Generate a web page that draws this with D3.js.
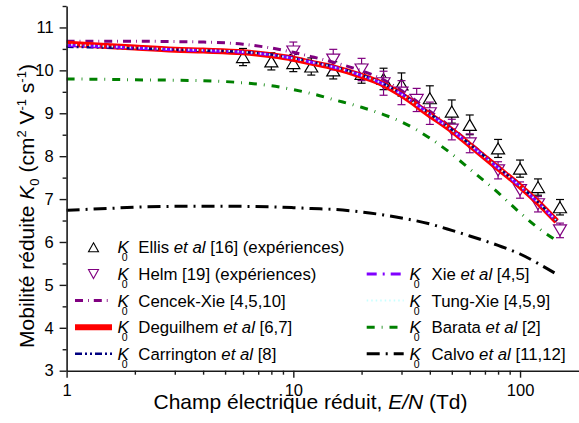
<!DOCTYPE html>
<html>
<head>
<meta charset="utf-8">
<script src="https://cdn.jsdelivr.net/npm/d3@7"></script>
<style>
  html, body { margin: 0; padding: 0; background: #fff; }
  svg { display: block; font-family: "Liberation Sans", Arial, sans-serif; }
</style>
</head>
<body>
<svg id="chart" width="579" height="423"></svg>
<script>
// Reduced field E/N (Td) for the theoretical curves
const enGrid = [1, 1.5, 2, 3, 4, 6, 8, 10, 12, 15, 20, 25, 30, 40, 50, 60, 80, 100, 120, 145];

// Theoretical reduced mobilities K0 (cm2 V-1 s-1)
const cencekXie  = [10.68, 10.68, 10.68, 10.67, 10.66, 10.61, 10.52, 10.42, 10.32, 10.19, 9.99, 9.78, 9.53, 9.05, 8.66, 8.31, 7.75, 7.31, 6.92, 6.48];
const deguilhem  = [10.62, 10.57, 10.53, 10.48, 10.46, 10.42, 10.35, 10.27, 10.18, 10.07, 9.87, 9.67, 9.43, 8.96, 8.60, 8.26, 7.72, 7.30, 6.92, 6.48];
const carrington = [10.55, 10.53, 10.51, 10.48, 10.46, 10.43, 10.37, 10.29, 10.20, 10.09, 9.89, 9.69, 9.46, 8.99, 8.62, 8.28, 7.74, 7.31, 6.93, 6.49];
const xie        = [10.58, 10.55, 10.52, 10.48, 10.46, 10.42, 10.36, 10.28, 10.19, 10.08, 9.88, 9.68, 9.45, 8.98, 8.61, 8.27, 7.73, 7.30, 6.92, 6.48];
const tungXie    = [10.60, 10.56, 10.53, 10.49, 10.47, 10.43, 10.36, 10.28, 10.19, 10.08, 9.88, 9.68, 9.44, 8.97, 8.61, 8.27, 7.73, 7.31, 6.93, 6.49];
const barata     = [9.80, 9.79, 9.78, 9.77, 9.76, 9.71, 9.64, 9.55, 9.46, 9.32, 9.14, 8.97, 8.80, 8.42, 8.05, 7.70, 7.15, 6.68, 6.33, 6.03];
const calvo      = [6.74, 6.78, 6.81, 6.83, 6.83, 6.83, 6.82, 6.80, 6.78, 6.76, 6.70, 6.63, 6.56, 6.42, 6.27, 6.14, 5.92, 5.72, 5.50, 5.25];

// Experimental points with uncertainties
const ellisEN  = [6, 8, 10, 12, 15, 20, 25, 30, 40, 50, 60, 80, 100, 120, 150];
const ellisK   = [10.31, 10.21, 10.17, 10.09, 10.00, 9.92, 9.80, 9.67, 9.35, 9.04, 8.73, 8.18, 7.71, 7.28, 6.81];
const ellisErr = [0.20, 0.20, 0.20, 0.20, 0.20, 0.22, 0.25, 0.27, 0.29, 0.27, 0.23, 0.21, 0.20, 0.19, 0.18];

const helmEN  = [10, 15, 20, 25, 30, 35, 40, 50, 60, 80, 100, 120, 150];
const helmK   = [10.44, 10.25, 10.02, 9.70, 9.48, 9.31, 9.00, 8.62, 8.30, 7.67, 7.21, 6.88, 6.27];
const helmErr = [0.22, 0.24, 0.26, 0.28, 0.28, 0.27, 0.26, 0.24, 0.22, 0.20, 0.19, 0.18, 0.17];

// Axis ticks
const xMajor = [1, 10, 100];
const xMinor = [2, 3, 4, 5, 6, 7, 8, 9, 20, 30, 40, 50, 60, 70, 80, 90, 200];
const yMajor = [3, 4, 5, 6, 7, 8, 9, 10, 11];
const yMinor = [3.5, 4.5, 5.5, 6.5, 7.5, 8.5, 9.5, 10.5, 11.5];

const svg = d3.select("#chart");
const x = d3.scaleLog().domain([1, 200]).range([66.6, 588.3]);
const y = d3.scaleLinear().domain([3, 11.5]).range([370.7, 6]);

const axisColor = "#1a1a1a";
const FONT = "Liberation Sans, Arial, sans-serif";

// Curve definitions: colour, width, dash pattern
const curves = [
  { key: "cencek",     vals: cencekXie,  color: "#800080", width: 3,   dash: "8,5,0.8,5" },
  { key: "deguilhem",  vals: deguilhem,  color: "#ff0000", width: 6,   dash: null },
  { key: "carrington", vals: carrington, color: "#000080", width: 2.5, dash: "7,3,2,3,2,3" },
  { key: "xie",        vals: xie,        color: "#8000ff", width: 3,   dash: "10,6,2,6" },
  { key: "tungxie",    vals: tungXie,    color: "#c8ffff", width: 2,   dash: "1.5,3" },
  { key: "barata",     vals: barata,     color: "#008000", width: 3,   dash: "8,7,0.8,7" },
  { key: "calvo",      vals: calvo,      color: "#000000", width: 3,   dash: "13,6,2,6" }
];
const byKey = Object.fromEntries(curves.map(c => [c.key, c]));

// ---- experimental markers (drawn below the curves) ----
function triPath(up, w, h) {
  return up
    ? `M0,${-h} L${w},${h} L${-w},${h} Z`
    : `M0,${h} L${w},${-h} L${-w},${-h} Z`;
}
function drawSeries(en, k, err, color, up) {
  const g = svg.append("g");
  en.forEach((e, i) => {
    const cx = x(e), v = k[i], d = err[i];
    const y1 = y(v + d), y2 = y(v - d);
    g.append("line").attr("x1", cx).attr("x2", cx).attr("y1", y1).attr("y2", y2)
      .attr("stroke", color).attr("stroke-width", 1.2);
    [y1, y2].forEach(yy => g.append("line")
      .attr("x1", cx - 4).attr("x2", cx + 4).attr("y1", yy).attr("y2", yy)
      .attr("stroke", color).attr("stroke-width", 1.2));
    g.append("path").attr("d", triPath(up, 6.5, 5.5))
      .attr("transform", `translate(${cx},${y(v)})`)
      .attr("fill", "#fff").attr("stroke", color).attr("stroke-width", 1.2);
  });
}
drawSeries(ellisEN, ellisK, ellisErr, "#000000", true);
drawSeries(helmEN, helmK, helmErr, "#800080", false);

// ---- theoretical curves ----
const line = d3.line().x(d => x(d[0])).y(d => y(d[1])).curve(d3.curveMonotoneX);
curves.forEach(c => {
  svg.append("path")
    .attr("d", line(enGrid.map((e, i) => [e, c.vals[i]])))
    .attr("fill", "none")
    .attr("stroke", c.color)
    .attr("stroke-width", c.width)
    .attr("stroke-dasharray", c.dash)
    .attr("stroke-linecap", "butt");
});

// ---- axes ----
const xAxisG = svg.append("g").attr("transform", `translate(0,${y(3)})`);
xAxisG.call(d3.axisBottom(x).tickValues(xMajor).tickSize(7).tickSizeOuter(0).tickFormat(d3.format("d")).tickPadding(7));
xAxisG.append("g").call(d3.axisBottom(x).tickValues(xMinor).tickSize(4).tickSizeOuter(0).tickFormat(""))
  .select(".domain").remove();
xAxisG.selectAll("path.domain").attr("stroke", axisColor).attr("stroke-width", 1.6);
xAxisG.selectAll(".tick line").attr("stroke", axisColor).attr("stroke-width", 1.4);
xAxisG.selectAll(".tick text").attr("font-size", 16.5).attr("fill", "#000").attr("font-family", FONT);

const yAxisG = svg.append("g").attr("transform", `translate(${x(1)},0)`);
yAxisG.call(d3.axisLeft(y).tickValues(yMajor).tickSize(7).tickSizeOuter(0).tickFormat(d3.format("d")).tickPadding(6));
yAxisG.append("g").call(d3.axisLeft(y).tickValues(yMinor).tickSize(4).tickSizeOuter(0).tickFormat(""))
  .select(".domain").remove();
yAxisG.selectAll("path.domain").attr("stroke", axisColor).attr("stroke-width", 1.6);
yAxisG.selectAll(".tick line").attr("stroke", axisColor).attr("stroke-width", 1.4);
yAxisG.selectAll(".tick text").attr("font-size", 16.5).attr("fill", "#000").attr("font-family", FONT);

// ---- axis titles ----
const xt = svg.append("text").attr("x", 310.5).attr("y", 409).attr("text-anchor", "middle")
  .attr("font-size", 21).attr("fill", "#000");
xt.append("tspan").text("Champ électrique réduit, ");
xt.append("tspan").attr("font-style", "italic").text("E/N");
xt.append("tspan").text(" (Td)");

const yt = svg.append("text").attr("transform", "translate(33.5,206) rotate(-90)")
  .attr("text-anchor", "middle").attr("font-size", 21).attr("fill", "#000");
yt.append("tspan").text("Mobilité réduite ");
yt.append("tspan").attr("font-style", "italic").text("K");
yt.append("tspan").attr("font-size", 13).attr("dy", 5).text("0");
yt.append("tspan").attr("dy", -5).text(" (cm");
yt.append("tspan").attr("font-size", 13).attr("dy", -8).text("2");
yt.append("tspan").attr("dy", 8).text(" V");
yt.append("tspan").attr("font-size", 13).attr("dy", -8).text("-1");
yt.append("tspan").attr("dy", 8).text(" s");
yt.append("tspan").attr("font-size", 13).attr("dy", -8).text("-1");
yt.append("tspan").attr("dy", 8).text(")");

// ---- legend ----
const legendRows = [
  { col: 0, row: 0, type: "up",   color: "#000000", parts: [["Ellis ", false], ["et al", true], [" [16] (expériences)", false]] },
  { col: 0, row: 1, type: "down", color: "#800080", parts: [["Helm [19] (expériences)", false]] },
  { col: 0, row: 2, curve: "cencek",     parts: [["Cencek-Xie [4,5,10]", false]] },
  { col: 0, row: 3, curve: "deguilhem",  parts: [["Deguilhem ", false], ["et al", true], [" [6,7]", false]] },
  { col: 0, row: 4, curve: "carrington", parts: [["Carrington ", false], ["et al", true], [" [8]", false]] },
  { col: 1, row: 1, curve: "xie",        parts: [["Xie ", false], ["et al", true], [" [4,5]", false]] },
  { col: 1, row: 2, curve: "tungxie",    parts: [["Tung-Xie [4,5,9]", false]] },
  { col: 1, row: 3, curve: "barata",     parts: [["Barata ", false], ["et al", true], [" [2]", false]] },
  { col: 1, row: 4, curve: "calvo",      parts: [["Calvo ", false], ["et al", true], [" [11,12]", false]] }
];
const colX = [{ s0: 75, s1: 112, k: 117.5, t: 138.3 }, { s0: 366.7, s1: 403.7, k: 409.5, t: 431.5 }];
const rowBase = [253.3, 280, 306.6, 333.2, 359.8];

const lg = svg.append("g").attr("fill", "#000");
legendRows.forEach(r => {
  const c = colX[r.col], base = rowBase[r.row], mid = base - 6;
  if (r.curve) {
    const cv = byKey[r.curve];
    lg.append("line").attr("x1", c.s0).attr("x2", c.s1).attr("y1", mid).attr("y2", mid)
      .attr("stroke", cv.color).attr("stroke-width", cv.width)
      .attr("stroke-dasharray", cv.dash).attr("stroke-linecap", "butt");
  } else {
    lg.append("path").attr("d", triPath(r.type === "up", 5, 4.5))
      .attr("transform", `translate(${(c.s0 + c.s1) / 2},${mid})`)
      .attr("fill", "#fff").attr("stroke", r.color).attr("stroke-width", 1.1);
  }
  const kt = lg.append("text").attr("x", c.k).attr("y", base).attr("font-size", 17);
  kt.append("tspan").attr("font-style", "italic").text("K");
  kt.append("tspan").attr("font-size", 10.5).attr("dx", -7).attr("dy", 8).text("0");
  const t = lg.append("text").attr("x", c.t).attr("y", base).attr("font-size", 16.8);
  r.parts.forEach(p => t.append("tspan").attr("font-style", p[1] ? "italic" : null).text(p[0]));
});
</script>
</body>
</html>
